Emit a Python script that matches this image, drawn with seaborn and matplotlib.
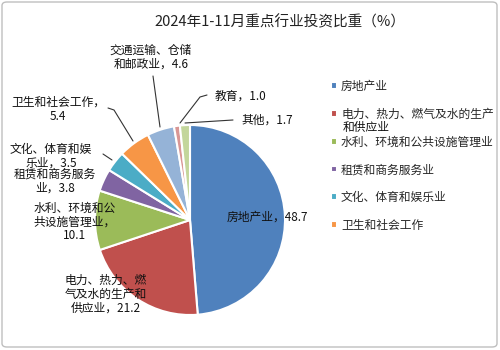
import matplotlib
matplotlib.use("Agg")
import matplotlib.pyplot as plt
import seaborn as sns
from matplotlib.patches import FancyBboxPatch
from matplotlib.lines import Line2D

# ---- data ----
title = "2024年1-11月重点行业投资比重（%）"
categories = ['房地产业', '电力、热力、燃气及水的生产和供应业', '水利、环境和公共设施管理业',
              '租赁和商务服务业', '文化、体育和娱乐业', '卫生和社会工作',
              '交通运输、仓储和邮政业', '教育', '其他']
values = [48.7, 21.2, 10.1, 3.8, 3.5, 5.4, 4.6, 1.0, 1.7]
label_texts = ['房地产业，48.7', '电力、热力、燃\n气及水的生产和\n供应业，21.2',
               '水利、环境和公\n共设施管理业，\n10.1', '租赁和商务服务\n业，3.8',
               '文化、体育和娱\n乐业，3.5', '卫生和社会工作，\n5.4',
               '交通运输、仓储\n和邮政业，4.6', '教育，1.0', '其他，1.7']
legend_labels = ['房地产业', '电力、热力、燃气及水的生产', '水利、环境和公共设施管理业',
                 '租赁和商务服务业', '文化、体育和娱乐业', '卫生和社会工作']
legend_wrap = '和供应业'

colors = ['#4F81BD', '#C0504D', '#9BBB59', '#8064A2', '#4BACC6', '#F79646',
          '#95B3D7', '#D99694', '#C3D69B']

sns.set_theme(style="white")
plt.rcParams['font.family'] = ['Noto Sans CJK SC', 'DejaVu Sans']

W, H = 500, 350
fig = plt.figure(figsize=(5, 3.5), dpi=100)

def fx(x):
    return x / W

def fy(y):
    return 1 - y / H

# border
fig.patches.append(FancyBboxPatch((fx(2), fy(347)), fx(495), 345 / H,
                                  boxstyle="round,pad=0,rounding_size=0.01",
                                  transform=fig.transFigure, facecolor='white',
                                  edgecolor='#BFBFBF', linewidth=1.0, zorder=-10))

cx, cy, r = 190, 220, 95
ax = fig.add_axes([fx(cx - r), fy(cy + r), 2 * r / W, 2 * r / H])
wedges, _ = ax.pie(values, colors=colors, startangle=90, counterclock=False,
                   wedgeprops=dict(edgecolor='white', linewidth=1.5))
ax.set_xlim(-1.0, 1.0)
ax.set_ylim(-1.0, 1.0)
ax.set_aspect('equal')
ax.axis('off')

fig.text(fx(280), fy(22), title, ha='center', va='center', fontsize=10.5, color='#222222')

label_pos = [(267, 217), (106, 294), (75, 222), (55, 181), (51, 156), (58, 109),
             (151, 57), (240, 96), (267, 120)]
for txt, (x, y) in zip(label_texts, label_pos):
    fig.text(fx(x), fy(y), txt, ha='center', va='center', fontsize=8.5,
             linespacing=1.1, color='#111111')

leaders = [
    [(108, 108), (114, 110), (133, 141)],
    [(103, 154), (112, 160)],
    [(153, 76), (160, 127)],
    [(207, 95), (200, 97), (180, 123)],
    [(233, 120), (185, 123)],
]
for pts in leaders:
    xs = [fx(p[0]) for p in pts]
    ys = [fy(p[1]) for p in pts]
    fig.lines.append(Line2D(xs, ys, transform=fig.transFigure, color='#333333', linewidth=0.8))

leg = fig.legend(wedges[:6], legend_labels, loc='upper left',
                 bbox_to_anchor=(fx(331), fy(80)), frameon=False, fontsize=8.5,
                 handlelength=0.5, handleheight=0.5, handletextpad=0.35,
                 labelspacing=1.25, borderaxespad=0, borderpad=0)
fig.text(fx(342.5), fy(127), legend_wrap, ha='left', va='center', fontsize=8.5,
         color='#111111')

fig.savefig("out.png", dpi=100)
